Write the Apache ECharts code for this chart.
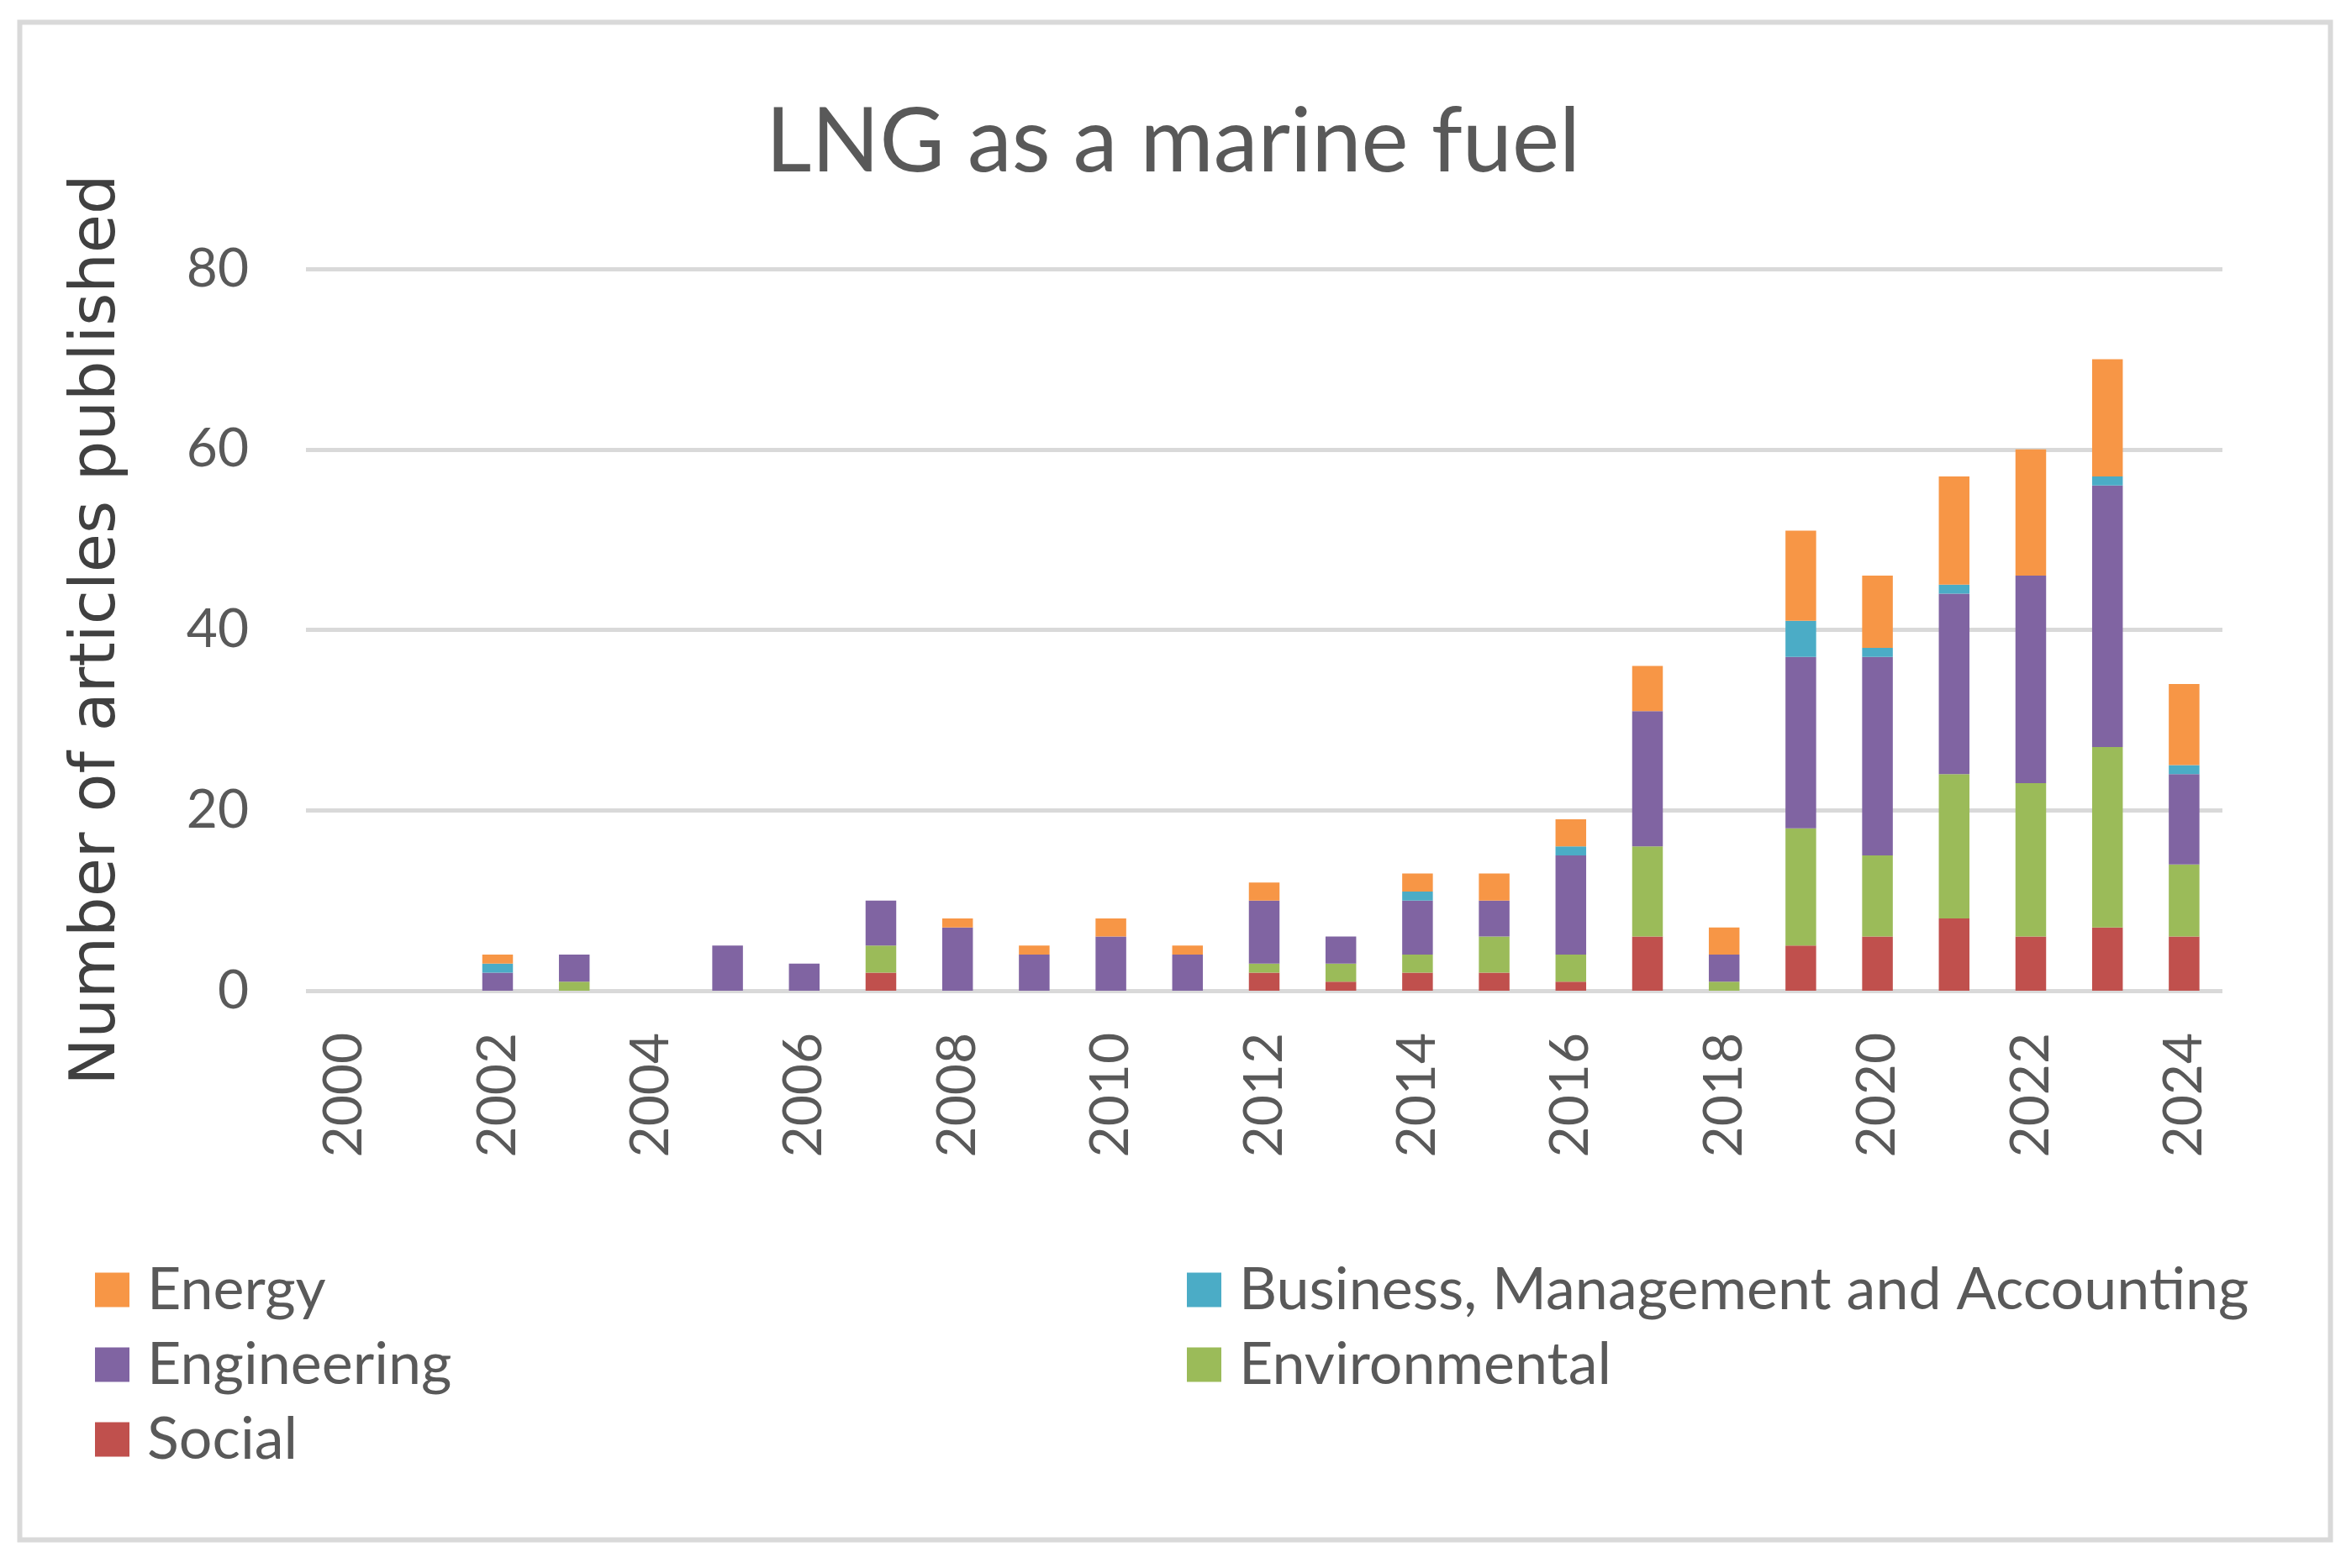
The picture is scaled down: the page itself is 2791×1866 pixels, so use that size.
<!DOCTYPE html>
<html>
<head>
<meta charset="utf-8">
<script src="https://cdn.jsdelivr.net/npm/echarts@6/dist/echarts.min.js"></script>
<style>
html,body{margin:0;padding:0;background:#fff;}
#chart{width:2791px;height:1866px;}
</style>
</head>
<body>
<div id="chart"></div>
<script>
const years = ['2000','2001','2002','2003','2004','2005','2006','2007','2008','2009','2010','2011','2012','2013','2014','2015','2016','2017','2018','2019','2020','2021','2022','2023','2024'];
const social        = [0,0,0,0,0,0,0,2,0,0,0,0,2,1,2,2,1,6,0,5,6,8,6,7,6];
const environmental = [0,0,0,1,0,0,0,3,0,0,0,0,1,2,2,4,3,10,1,13,9,16,17,20,8];
const engineering   = [0,0,2,3,0,5,3,5,7,4,6,4,7,3,6,4,11,15,3,19,22,20,23,29,10];
const business      = [0,0,1,0,0,0,0,0,0,0,0,0,0,0,1,0,1,0,0,4,1,1,0,1,1];
const energy        = [0,0,1,0,0,0,0,0,1,1,2,1,2,0,2,3,3,5,3,10,8,12,14,13,9];
const yTicks = {min:0, max:80, interval:20};

const FONT = 'Lato';
const TXT = '#595959';

const chart = echarts.init(document.getElementById('chart'), null, {renderer:'canvas'});

function bar(name, data, color){
  return {name, type:'bar', stack:'total', data, barWidth:'40%',
    itemStyle:{color}, emphasis:{disabled:true}};
}

const legendText = {fontFamily:FONT, fontSize:70, color:TXT, padding:[0,0,0,16]};

chart.setOption({
  backgroundColor:'#ffffff',
  animation:false,
  title:{text:'LNG as a marine fuel', left:'center', top:112,
    textStyle:{fontFamily:FONT, fontSize:106, fontWeight:'normal', color:TXT}},
  grid:{left:364, right:147, top:320, bottom:687, containLabel:false},
  legend:[
    {data:['Energy','Engineering','Social'], orient:'vertical', left:113, top:1500,
     padding:0, itemWidth:41, itemHeight:41, itemGap:19, icon:'rect', selectedMode:false,
     textStyle:legendText},
    {data:['Business, Management and Accounting','Environmental'], orient:'vertical', left:1412, top:1500,
     padding:0, itemWidth:41, itemHeight:41, itemGap:19, icon:'rect', selectedMode:false,
     textStyle:legendText}
  ],
  xAxis:{type:'category', data:years,
    axisLine:{show:false}, axisTick:{show:false},
    axisLabel:{rotate:90, interval:1, margin:50, fontFamily:FONT, fontSize:64, color:TXT}},
  yAxis:{type:'value', min:yTicks.min, max:yTicks.max, interval:yTicks.interval,
    name:'Number of articles published', nameLocation:'middle', nameGap:210,
    nameTextStyle:{fontFamily:'DejaVu Sans', fontSize:75, color:'#404040'},
    axisLine:{show:false}, axisTick:{show:false},
    axisLabel:{margin:68, fontFamily:FONT, fontSize:64, color:TXT},
    splitLine:{lineStyle:{color:'#d9d9d9', width:5}}},
  series:[
    bar('Social', social, '#C0504D'),
    bar('Environmental', environmental, '#9BBB59'),
    bar('Engineering', engineering, '#8064A2'),
    bar('Business, Management and Accounting', business, '#4BACC6'),
    bar('Energy', energy, '#F79646')
  ],
  graphic:[{type:'rect', shape:{x:23.5, y:26.5, width:2749, height:1806},
    style:{fill:null, stroke:'#d9d9d9', lineWidth:6}, silent:true, z:-1}]
});
</script>
</body>
</html>
